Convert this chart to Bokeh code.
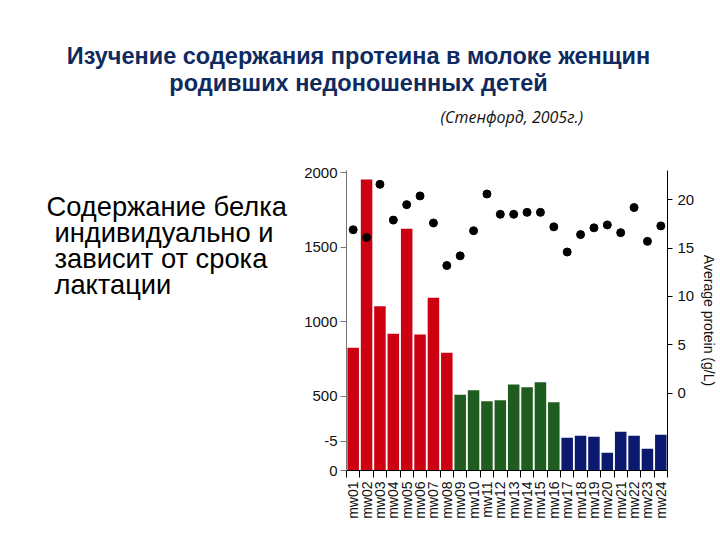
import math
from bokeh.plotting import figure
from bokeh.layouts import column, row
from bokeh.models import Range1d, LinearAxis, FixedTicker, Label, ColumnDataSource
from bokeh.embed import file_html
from bokeh.resources import INLINE

# ---------------- data ----------------
categories = ["mw01", "mw02", "mw03", "mw04", "mw05", "mw06", "mw07", "mw08",
              "mw09", "mw10", "mw11", "mw12", "mw13", "mw14", "mw15", "mw16",
              "mw17", "mw18", "mw19", "mw20", "mw21", "mw22", "mw23", "mw24"]
total_protein = [824, 1954, 1103, 918, 1623, 913, 1160, 790,
                 508, 539, 465, 472, 577, 559, 593, 459,
                 220, 233, 226, 119, 260, 233, 146, 240]
avg_protein = [16.9, 16.1, 21.6, 17.9, 19.5, 20.4, 17.6, 13.2,
               14.2, 16.8, 20.6, 18.5, 18.5, 18.7, 18.7, 17.2,
               14.6, 16.4, 17.1, 17.4, 16.6, 19.2, 15.7, 17.3]
group = [0] * 8 + [1] * 8 + [2] * 8
group_colors = ["#cc0011", "#1f5c1f", "#0b1a6e"]
left_ticks = [0, 500, 1000, 1500, 2000]
right_ticks = [0, 5, 10, 15, 20]
left_range = (0, 2014)
right_range = (-8, 23.03)
title_lines = ["Изучение содержания протеина в молоке женщин",
               "родивших недоношенных детей"]
subtitle = "(Стенфорд, 2005г.)"
side_text = ["Содержание белка", "индивидуально и", "зависит от срока", "лактации"]
right_label = "Average protein (g/L)"

TOP_H = 160
SIDE_W, ROW_H = 300, 540 - TOP_H
BORDER_TOP, BORDER_BOTTOM = 10, 70


def text_panel(w, h, y0, y1, **kw):
    # page-pixel coordinates inside the panel's frame
    f = figure(width=w, height=h, x_range=Range1d(0, w), y_range=Range1d(y1, y0),
               output_backend="svg", toolbar_location=None, min_border=0,
               outline_line_color=None, background_fill_color="white",
               border_fill_color="white", **kw)
    f.axis.visible = False
    f.grid.visible = False
    return f


# ---------------- title panel ----------------
top_fig = text_panel(720, TOP_H, 0, TOP_H)
for t, yy in zip(title_lines, [55, 82]):
    top_fig.add_layout(Label(x=358, y=yy, text=t, text_font="Liberation Sans",
                             text_font_style="bold", text_font_size="23.5px",
                             text_color="#0f2a5e", text_align="center",
                             text_baseline="middle"))
top_fig.add_layout(Label(x=440, y=116, text=subtitle, text_font="Open Sans",
                         text_font_style="italic", text_font_size="16px",
                         text_color="#111111", text_align="left", text_baseline="middle"))

# ---------------- side text panel (frame aligned with the chart frame) ----------------
side_fig = text_panel(SIDE_W, ROW_H, TOP_H + BORDER_TOP, 540 - BORDER_BOTTOM,
                      min_border_top=BORDER_TOP, min_border_bottom=BORDER_BOTTOM)
side_fig.min_border_left = 0
side_fig.min_border_right = 0
xs = [46, 54, 54, 54]
ys = [206, 232, 258, 284]
for t, xx, yy in zip(side_text, xs, ys):
    side_fig.add_layout(Label(x=xx, y=yy, text=t, text_font="Liberation Sans",
                              text_font_size="27.3px", text_color="#000000",
                              text_align="left", text_baseline="middle"))

# ---------------- chart ----------------
n = len(categories)
centers = [i + 0.5 for i in range(n)]
edges = [float(i) for i in range(n + 1)]

p = figure(width=720 - SIDE_W, height=ROW_H, x_range=Range1d(0, n),
           y_range=Range1d(*left_range), output_backend="svg", toolbar_location=None,
           min_border_left=46, min_border_right=48, min_border_top=BORDER_TOP,
           min_border_bottom=BORDER_BOTTOM, outline_line_color=None,
           background_fill_color="white", border_fill_color="white")
p.xgrid.visible = False
p.ygrid.visible = False
p.extra_y_ranges = {"protein": Range1d(*right_range)}

src = ColumnDataSource(dict(x=centers, total=total_protein, avg=avg_protein,
                            color=[group_colors[g] for g in group]))
p.vbar(x="x", top="total", width=0.86, fill_color="color", line_color=None, source=src)
p.scatter(x="x", y="avg", size=8, color="black", y_range_name="protein", source=src)

# bottom axis: labels under bars, ticks between bars
xa = p.xaxis[0]
xa.ticker = FixedTicker(ticks=centers, minor_ticks=edges)
xa.major_label_overrides = {c: name for c, name in zip(centers, categories)}
xa.major_label_orientation = math.pi / 2
xa.major_tick_out = 0
xa.major_tick_in = 0
xa.minor_tick_out = 7
xa.minor_tick_in = 0
xa.minor_tick_line_color = "black"
xa.axis_line_color = "black"
xa.major_label_text_font = "Liberation Sans"
xa.major_label_text_font_size = "14px"
xa.major_label_text_color = "#111111"
xa.major_label_standoff = 4

# left axis (with the stray "-5" tick mapped from the right scale)
minus5 = left_range[0] + (-5 - right_range[0]) / (right_range[1] - right_range[0]) * (left_range[1] - left_range[0])
ya = p.yaxis[0]
ya.ticker = FixedTicker(ticks=left_ticks + [minus5])
ya.major_label_overrides = {minus5: "-5"}
ya.axis_line_color = "#777777"
ya.major_tick_line_color = "#777777"
ya.major_tick_out = 6
ya.major_tick_in = 0
ya.minor_tick_out = 0
ya.minor_tick_in = 0
ya.major_label_text_font = "Liberation Sans"
ya.major_label_text_font_size = "15px"
ya.major_label_text_color = "#111111"
ya.major_label_standoff = 3

# right axis
ra = LinearAxis(y_range_name="protein", ticker=FixedTicker(ticks=right_ticks),
                axis_label=right_label)
ra.axis_line_color = "black"
ra.major_tick_out = 5
ra.major_tick_in = 0
ra.minor_tick_out = 0
ra.minor_tick_in = 0
ra.major_label_standoff = 5
ra.axis_label_standoff = 4
ra.major_label_text_font = "Liberation Sans"
ra.major_label_text_font_size = "15px"
ra.major_label_text_color = "#111111"
ra.axis_label_text_font = "Liberation Sans"
ra.axis_label_text_font_size = "14px"
ra.axis_label_text_font_style = "normal"
ra.axis_label_text_color = "#111111"
p.add_layout(ra, "right")

layout = column(top_fig, row(side_fig, p, spacing=0), spacing=0)
open("out.html", "w").write(file_html(layout, INLINE))
